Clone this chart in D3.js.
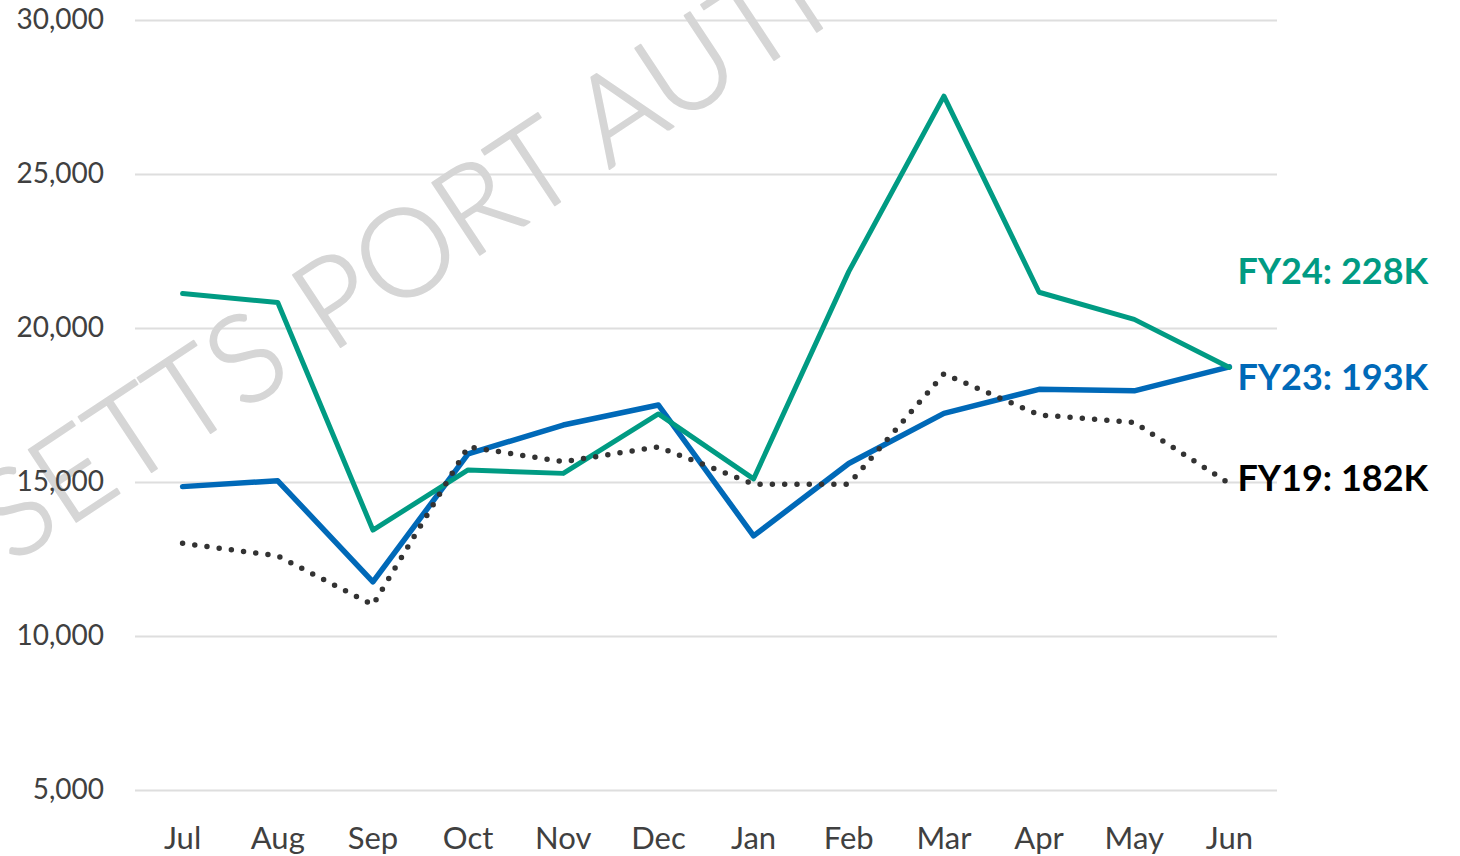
<!DOCTYPE html>
<html>
<head>
<meta charset="utf-8">
<script src="https://cdn.jsdelivr.net/npm/d3@7"></script>
<style>
  html, body { margin: 0; padding: 0; background: #fff; }
  svg { display: block; }
</style>
</head>
<body>
<svg id="chart" width="1460" height="856"></svg>
<script>
const months = ["Jul","Aug","Sep","Oct","Nov","Dec","Jan","Feb","Mar","Apr","May","Jun"];
const fy24 = [21120, 20830, 13440, 15390, 15280, 17210, 15100, 21830, 27530, 21160, 20280, 18720];
const fy23 = [14850, 15040, 11760, 15910, 16850, 17500, 13250, 15600, 17230, 18010, 17960, 18740];
const fy19 = [13010, 12600, 11010, 16140, 15660, 16140, 14930, 14930, 18510, 17180, 16930, 14950];
const yTicks = [5000, 10000, 15000, 20000, 25000, 30000];
const seriesNames = ["FY24", "FY23", "FY19"];
const seriesTotals = ["228K", "193K", "182K"];
const watermark = ["MASSACHUSETTS", "PORT AUTHORITY"];

(function () {
const svg = d3.select("#chart");
const pLeft = 135, pRight = 1277, pTop = 20, pBottom = 790;

const x = d3.scaleBand().domain(months).range([pLeft, pRight]).padding(0);
const cx = d => x(d) + x.bandwidth() / 2;
const y = d3.scaleLinear().domain([5000, 30000]).range([pBottom, pTop]);

svg.append("rect").attr("width", 1460).attr("height", 856).attr("fill", "#fff");

// gridlines
const grid = svg.append("g").attr("transform", `translate(${pLeft},0)`)
  .call(d3.axisLeft(y).tickValues(yTicks).tickSize(-(pRight - pLeft)).tickFormat(""));
grid.select(".domain").remove();
grid.selectAll("line").attr("stroke", "#dedede").attr("stroke-width", 2);

// watermark
const wm = svg.append("g")
  .attr("transform", "translate(330,354) rotate(-33.5)")
  .attr("fill", "#d6d6d6")
  .attr("stroke", "#d6d6d6")
  .attr("stroke-width", 2)
  .attr("stroke-linejoin", "round")
  .style("font-family", "Lato, 'Open Sans', sans-serif")
  .style("font-weight", 300)
  .style("font-size", "122px");
wm.append("text").attr("x", -40).attr("y", 0).attr("text-anchor", "end").text(watermark[0]);
wm.append("text").attr("x", 0).attr("y", 0).attr("text-anchor", "start").text(watermark[1]);

// y labels
const yAxis = svg.append("g").attr("transform", `translate(${pLeft},0)`)
  .call(d3.axisLeft(y).tickValues(yTicks).tickSize(0).tickPadding(31).tickFormat(d3.format(",")));
yAxis.select(".domain").remove();
yAxis.selectAll("text")
  .attr("fill", "#404040")
  .style("font-family", "Lato, sans-serif")
  .style("font-size", "28px");

// x labels
const xAxis = svg.append("g").attr("transform", `translate(0,${pBottom})`)
  .call(d3.axisBottom(x).tickSize(0).tickPadding(37));
xAxis.select(".domain").remove();
xAxis.selectAll("text")
  .attr("fill", "#404040")
  .style("font-family", "Lato, sans-serif")
  .style("font-size", "31px");

const line = d3.line().x((d, i) => cx(months[i])).y(d => y(d));

svg.append("path").datum(fy23).attr("d", line)
  .attr("fill", "none").attr("stroke", "#0069B8").attr("stroke-width", 5.5)
  .attr("stroke-linejoin", "round").attr("stroke-linecap", "round");
svg.append("path").datum(fy24).attr("d", line)
  .attr("fill", "none").attr("stroke", "#009B83").attr("stroke-width", 5)
  .attr("stroke-linejoin", "round").attr("stroke-linecap", "round");
svg.append("path").datum(fy19).attr("d", line)
  .attr("fill", "none").attr("stroke", "#333333").attr("stroke-width", 5.5)
  .attr("stroke-dasharray", "0 12.3")
  .attr("stroke-linejoin", "round").attr("stroke-linecap", "round");

// end labels
const labelInfo = [
  { data: fy24, color: "#009B83", dy: -83 },
  { data: fy23, color: "#0069B8", dy: 23 },
  { data: fy19, color: "#000000", dy: 7 }
];
labelInfo.forEach((s, i) => {
  svg.append("text")
    .attr("x", cx(months[months.length - 1]) + 8)
    .attr("y", y(s.data[s.data.length - 1]) + s.dy)
    .attr("fill", s.color)
    .style("font-family", "Lato, sans-serif")
    .style("font-weight", "bold")
    .style("font-size", "36px")
    .text(`${seriesNames[i]}: ${seriesTotals[i]}`);
});
})();
</script>
</body>
</html>
